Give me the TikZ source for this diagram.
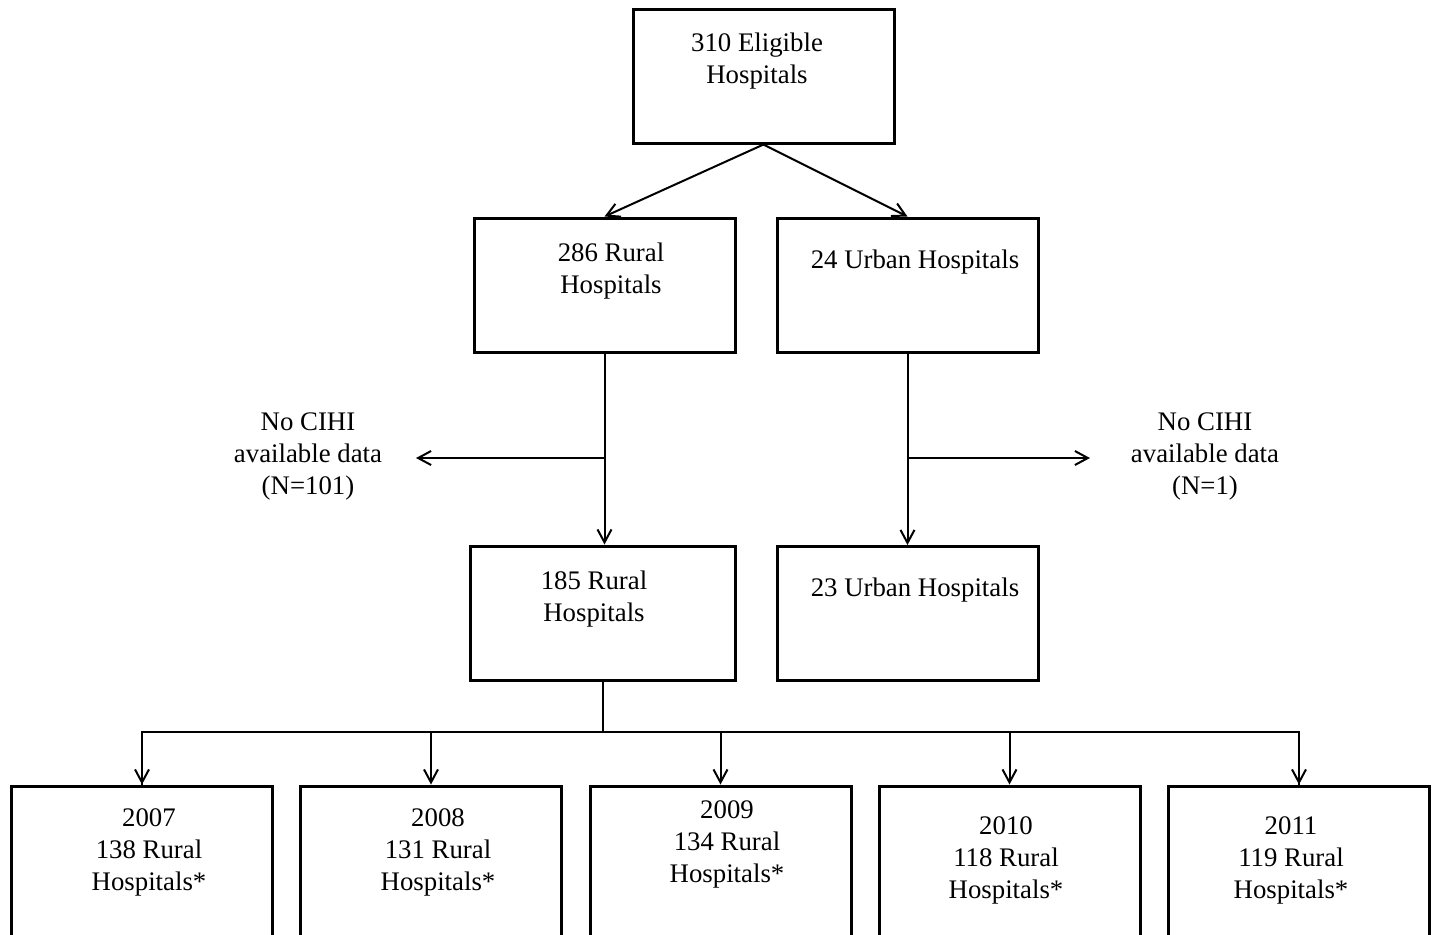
\documentclass[tikz,border=0pt]{standalone}
\usepackage{fontspec}
\setmainfont{Liberation Serif}
\usetikzlibrary{arrows.meta,positioning,calc}

\tikzset{
  box/.style={draw,line width=1.5pt,minimum width=130.5pt,minimum height=67pt,inner sep=0pt},
  txt/.style={align=center,inner sep=0pt,font=\fontsize{13.4pt}{16pt}\selectfont},
  link/.style={line width=1pt},
  >={Straight Barb[length=6.5pt,width=7pt,line width=1pt]}
}

\begin{document}
\begin{tikzpicture}[x=0.5pt,y=-0.5pt]
      \clip (0,0) rectangle (1432,934);

      % boxes
      \node[box] (top) at (763.5,76) {};
      \node[box] (rural) at (604.5,285) {};
      \node[box] (urban) at (907.5,285) {};
      \node[box,minimum width=132.5pt] (rural2) at (602.5,613) {};
      \node[box] (urban2) at (907.5,613.5) {};
      \node[box,minimum height=82pt] (y07) at (142,868) {};
      \node[box,minimum height=82pt] (y08) at (431,868) {};
      \node[box,minimum height=82pt] (y09) at (720.5,868) {};
      \node[box,minimum height=82pt] (y10) at (1009.5,868) {};
      \node[box,minimum height=82pt] (y11) at (1299,868) {};

      % texts
      \node[txt] (ttop) at (757,61) {310 Eligible\\Hospitals};
      \node[txt] (trural) at (611,271) {286 Rural\\Hospitals};
      \node[txt] (turban) at (915,262) {24 Urban Hospitals};
      \node[txt] (trural2) at (594,599) {185 Rural\\Hospitals};
      \node[txt] (turban2) at (915,590) {23 Urban Hospitals};
      \node[txt] (ty07) at (149,852) {2007\\138 Rural\\Hospitals*};
      \node[txt] (ty08) at (438,852) {2008\\131 Rural\\Hospitals*};
      \node[txt] (ty09) at (727,844) {2009\\134 Rural\\Hospitals*};
      \node[txt] (ty10) at (1006,860) {2010\\118 Rural\\Hospitals*};
      \node[txt] (ty11) at (1291,860) {2011\\119 Rural\\Hospitals*};
      \node[txt] (nodata1) at (308,456) {No CIHI\\available data\\(N=101)};
      \node[txt] (nodata2) at (1205,456) {No CIHI\\available data\\(N=1)};

      % connectors
      \coordinate (rmid) at (rural.south |- 0,458);
      \coordinate (umid) at (urban.south |- 0,458);
      \coordinate (ldrop) at (416,458);
      \coordinate (rdrop) at (1090,458);
      \coordinate (split) at (603,732);

      \draw[->,link] (top.south) -- (rural.north);
      \draw[->,link] (top.south) -- (urban.north);
      \draw[->,link] (rural.south) -- (rural.south |- rural2.north);
      \draw[->,link] (urban.south) -- (urban2.north);
      \draw[->,link] (rmid) -- (ldrop);
      \draw[->,link] (umid) -- (rdrop);
      \draw[link] (split |- rural2.south) -- (split);
      \draw[link] (split) -| (y07.north);
      \draw[link] (split) -| (y11.north);
      \foreach \y in {y07,y08,y09,y10,y11}
        \draw[->,link] (\y.north |- split) -- (\y.north);

\end{tikzpicture}
\end{document}
